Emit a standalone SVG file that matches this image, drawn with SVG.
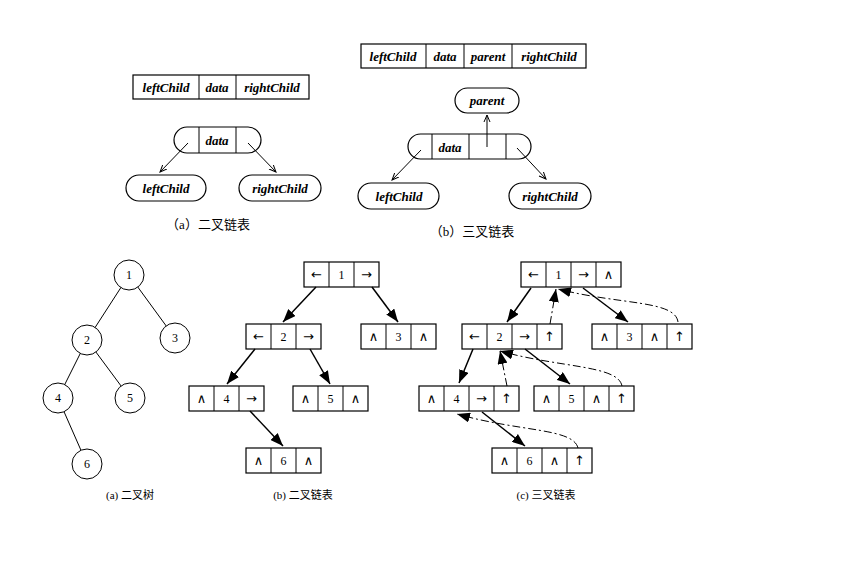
<svg xmlns="http://www.w3.org/2000/svg" width="844" height="563" viewBox="0 0 844 563">
<style>
.b{fill:#fff;stroke:#000;stroke-width:1.2}
.l{fill:none;stroke:#000;stroke-width:1}
.t{font-family:"Liberation Serif",serif;font-size:13px;text-anchor:middle;font-style:italic;font-weight:bold}
.c{font-family:"Liberation Serif","Noto Sans CJK SC",serif;font-size:13px;text-anchor:middle}
.n{font-family:"Liberation Serif",serif;font-size:12px;text-anchor:middle;fill:#000}
.a{font-family:"DejaVu Sans",sans-serif;font-size:13px;text-anchor:middle;fill:#000}
.s{fill:none;stroke:#000;stroke-width:1;marker-end:url(#s)}
.e{fill:none;stroke:#000;stroke-width:1.5;marker-end:url(#f)}
.d{fill:none;stroke:#000;stroke-width:1;stroke-dasharray:8 3 2 3;marker-end:url(#f)}
</style>
<defs>
<marker id="s" markerWidth="8" markerHeight="8" refX="7" refY="4" orient="auto" markerUnits="userSpaceOnUse"><path d="M0,1 L7,4 L0,7" fill="none" stroke="#000"/></marker>
<marker id="f" markerWidth="14" markerHeight="10" refX="13" refY="5" orient="auto" markerUnits="userSpaceOnUse"><path d="M0,0 L13,5 L0,10 Z" fill="#000"/></marker>
</defs>
<rect width="844" height="563" fill="#fff"/>
<g id="topA">
<rect class="b" x="133" y="75" width="176" height="24"/><path class="l" d="M199,75V99M236,75V99"/>
<text class="t" x="166" y="92">leftChild</text><text class="t" x="217" y="92">data</text><text class="t" x="272" y="92">rightChild</text>
<rect class="b" x="174" y="127" width="87" height="26" rx="13"/><path class="l" d="M199,127V153M236,127V153"/>
<text class="t" x="217" y="145">data</text>
<rect class="b" x="126" y="175" width="80" height="26" rx="13"/><text class="t" x="166" y="193">leftChild</text>
<rect class="b" x="239" y="175" width="82" height="26" rx="13"/><text class="t" x="280" y="193">rightChild</text>
<text class="c" x="208" y="229">（a）二叉链表</text>
</g>
<g id="topB">
<rect class="b" x="361" y="44" width="225" height="24"/><path class="l" d="M426,44V68M464,44V68M512,44V68"/>
<text class="t" x="393" y="61">leftChild</text><text class="t" x="445" y="61">data</text><text class="t" x="488" y="61">parent</text><text class="t" x="549" y="61">rightChild</text>
<rect class="b" x="455" y="88" width="64" height="25" rx="12.5"/><text class="t" x="487" y="105">parent</text>
<rect class="b" x="408" y="134" width="123" height="25" rx="12.5"/><path class="l" d="M432,134V159M469,134V159M506,134V159"/>
<text class="t" x="450" y="152">data</text>
<rect class="b" x="358" y="183" width="81" height="26" rx="13"/><text class="t" x="399" y="201">leftChild</text>
<rect class="b" x="509" y="183" width="82" height="26" rx="13"/><text class="t" x="550" y="201">rightChild</text>
<text class="c" x="472" y="236">（b）三叉链表</text>
</g>
<g id="treeA" fill="#fff" stroke="#000" stroke-width="1">
<path d="M129,275L87,340M129,275L175,338M87,340L58,398M87,340L130,398M58,398L87,464"/>
<circle cx="129" cy="275" r="15"/><circle cx="87" cy="340" r="15"/><circle cx="175" cy="338" r="15"/>
<circle cx="58" cy="398" r="15"/><circle cx="130" cy="398" r="15"/><circle cx="87" cy="464" r="15"/>
</g>
<g class="n">
<text x="129" y="279">1</text><text x="87" y="344">2</text><text x="175" y="342">3</text><text x="58" y="402">4</text><text x="130" y="402">5</text><text x="87" y="468">6</text>
</g>
<g>
<g id="b1"><rect class="b" x="304" y="262" width="75" height="25"/><path class="l" d="M329,262v25M354,262v25"/><text class="a" x="316.5" y="279">←</text><text class="n" x="341.5" y="279">1</text><text class="a" x="366.5" y="279">→</text></g>
<g id="b2"><rect class="b" x="246" y="324" width="75" height="25"/><path class="l" d="M271,324v25M296,324v25"/><text class="a" x="258.5" y="341">←</text><text class="n" x="283.5" y="341">2</text><text class="a" x="308.5" y="341">→</text></g>
<g id="b3"><rect class="b" x="361" y="324" width="75" height="25"/><path class="l" d="M386,324v25M411,324v25"/><text class="a" x="373.5" y="341">∧</text><text class="n" x="398.5" y="341">3</text><text class="a" x="423.5" y="341">∧</text></g>
<g id="b4"><rect class="b" x="189" y="386" width="75" height="25"/><path class="l" d="M214,386v25M239,386v25"/><text class="a" x="201.5" y="403">∧</text><text class="n" x="226.5" y="403">4</text><text class="a" x="251.5" y="403">→</text></g>
<g id="b5"><rect class="b" x="293" y="386" width="75" height="25"/><path class="l" d="M318,386v25M343,386v25"/><text class="a" x="305.5" y="403">∧</text><text class="n" x="330.5" y="403">5</text><text class="a" x="355.5" y="403">∧</text></g>
<g id="b6"><rect class="b" x="246" y="448" width="75" height="25"/><path class="l" d="M271,448v25M296,448v25"/><text class="a" x="258.5" y="465">∧</text><text class="n" x="283.5" y="465">6</text><text class="a" x="308.5" y="465">∧</text></g>
<g id="c1"><rect class="b" x="521" y="262" width="100" height="25"/><path class="l" d="M546,262v25M571,262v25M596,262v25"/><text class="a" x="533.5" y="279">←</text><text class="n" x="558.5" y="279">1</text><text class="a" x="583.5" y="279">→</text><text class="a" x="608.5" y="279">∧</text></g>
<g id="c2"><rect class="b" x="462" y="324" width="100" height="25"/><path class="l" d="M487,324v25M512,324v25M537,324v25"/><text class="a" x="474.5" y="341">←</text><text class="n" x="499.5" y="341">2</text><text class="a" x="524.5" y="341">→</text><text class="a" x="549.5" y="341">↑</text></g>
<g id="c3"><rect class="b" x="592" y="324" width="100" height="25"/><path class="l" d="M617,324v25M642,324v25M667,324v25"/><text class="a" x="604.5" y="341">∧</text><text class="n" x="629.5" y="341">3</text><text class="a" x="654.5" y="341">∧</text><text class="a" x="679.5" y="341">↑</text></g>
<g id="c4"><rect class="b" x="419" y="386" width="100" height="25"/><path class="l" d="M444,386v25M469,386v25M494,386v25"/><text class="a" x="431.5" y="403">∧</text><text class="n" x="456.5" y="403">4</text><text class="a" x="481.5" y="403">→</text><text class="a" x="506.5" y="403">↑</text></g>
<g id="c5"><rect class="b" x="534" y="386" width="100" height="25"/><path class="l" d="M559,386v25M584,386v25M609,386v25"/><text class="a" x="546.5" y="403">∧</text><text class="n" x="571.5" y="403">5</text><text class="a" x="596.5" y="403">∧</text><text class="a" x="621.5" y="403">↑</text></g>
<g id="c6"><rect class="b" x="492" y="448" width="100" height="25"/><path class="l" d="M517,448v25M542,448v25M567,448v25"/><text class="a" x="504.5" y="465">∧</text><text class="n" x="529.5" y="465">6</text><text class="a" x="554.5" y="465">∧</text><text class="a" x="579.5" y="465">↑</text></g>
</g>
<g id="connectors">
<path class="s" d="M188,143L160,172"/><path class="s" d="M248,143L276,172"/><path class="s" d="M487,147V115"/><path class="s" d="M421,150L392,180"/><path class="s" d="M517,148L546,179"/>
<path class="e" d="M316,287L283,322"/><path class="e" d="M372,287L398,322"/><path class="e" d="M255,349L227,384"/><path class="e" d="M310,349L330,384"/><path class="e" d="M250,411L283,446"/>
<path class="e" d="M531,288L507,322"/><path class="e" d="M583,288L628,322"/><path class="e" d="M473,349L459,383"/><path class="e" d="M525,349L570,384"/><path class="e" d="M482,412L525,446"/>
<path class="d" d="M550,324L556,289"/><path class="d" d="M678,322C675,300 620,305 558,289"/><path class="d" d="M507,386L500,351"/><path class="d" d="M622,386C618,365 560,368 500,351"/><path class="d" d="M578,448C573,428 520,432 457,414"/>
</g>
<g font-family="Liberation Serif,Noto Sans CJK SC,serif" font-size="11" text-anchor="middle">
<text x="130" y="499">(a)  二叉树</text><text x="303" y="499">(b)  二叉链表</text><text x="546" y="499">(c)  三叉链表</text>
</g>
</svg>
